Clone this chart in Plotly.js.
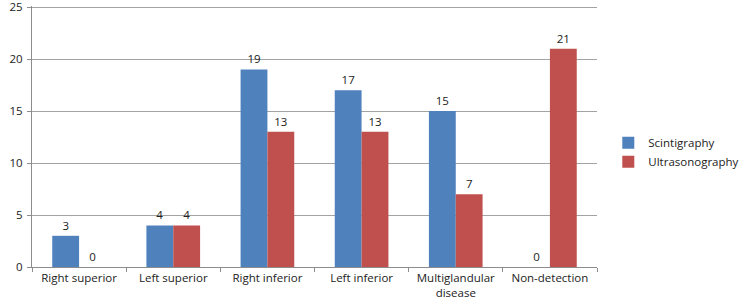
<!DOCTYPE html>
<html><head><meta charset="utf-8">
<script src="https://cdn.plot.ly/plotly-3.0.1.min.js"></script>
<style>body{margin:0}#c{width:750px;height:305px}</style>
</head><body><div id="c"></div>
<script>
const categories = ["Right superior","Left superior","Right inferior","Left inferior","Multiglandular<br>disease","Non-detection"];
const scintigraphy = [3,4,19,17,15,0];
const ultrasonography = [0,4,13,13,7,21];
const yTicks = [0,5,10,15,20,25];

const font = {family:"Open Sans, Liberation Sans, sans-serif", size:11.5, color:"#222"};
const traces = [
  {type:"bar", name:"Scintigraphy", x:categories, y:scintigraphy, marker:{color:"#4F81BD"},
   text:scintigraphy.map(String), textposition:"outside", cliponaxis:false, textfont:font},
  {type:"bar", name:"Ultrasonography", x:categories, y:ultrasonography, marker:{color:"#C0504D"},
   text:ultrasonography.map(String), textposition:"outside", cliponaxis:false, textfont:font}
];
const layout = {
  width:750, height:305,
  margin:{l:32, r:130, t:6, b:38},
  paper_bgcolor:"#fff", plot_bgcolor:"#fff",
  font:font,
  barmode:"group", bargap:0.43, bargroupgap:0,
  showlegend:true,
  legend:{x:1.02, xanchor:"left", y:0.44, yanchor:"middle", font:font, itemwidth:30, tracegroupgap:6},
  xaxis:{type:"category", showline:true, linecolor:"#8c8c8c", linewidth:1,
         ticks:"outside", tickson:"boundaries", ticklen:4, tickcolor:"#8c8c8c",
         showgrid:false, tickfont:font, fixedrange:true},
  yaxis:{range:[0,25.1], tickvals:yTicks, showgrid:true, gridcolor:"#a3a3a3", gridwidth:1,
         showline:true, linecolor:"#8c8c8c", ticks:"outside", ticklen:4, tickcolor:"#8c8c8c",
         zeroline:false, tickfont:font, ticklabelstandoff:2, ticklabeloverflow:"allow"}
};
Plotly.newPlot("c", traces, layout, {displayModeBar:false, staticPlot:true});
</script></body></html>
